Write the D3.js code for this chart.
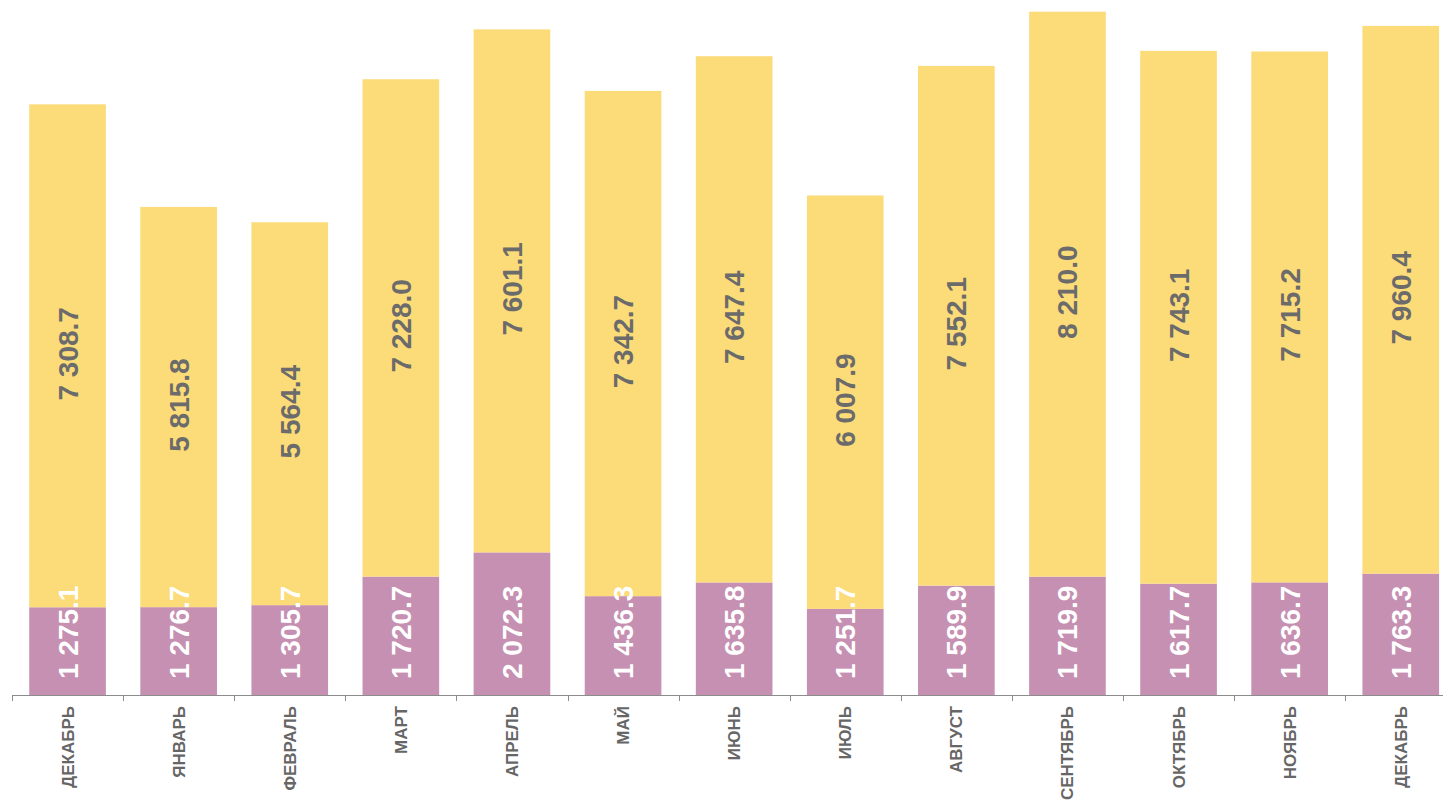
<!DOCTYPE html>
<html>
<head>
<meta charset="utf-8">
<script src="https://cdn.jsdelivr.net/npm/d3@7"></script>
<style>
  body { margin: 0; background: #fff; }
  svg { display: block; font-family: "Liberation Sans", Arial, sans-serif; }
</style>
</head>
<body>
<svg id="chart" width="1443" height="805"></svg>
<script>
const months = ["ДЕКАБРЬ", "ЯНВАРЬ", "ФЕВРАЛЬ", "МАРТ", "АПРЕЛЬ", "МАЙ", "ИЮНЬ", "ИЮЛЬ", "АВГУСТ", "СЕНТЯБРЬ", "ОКТЯБРЬ", "НОЯБРЬ", "ДЕКАБРЬ"];
const lower = [1275.1, 1276.7, 1305.7, 1720.7, 2072.3, 1436.3, 1635.8, 1251.7, 1589.9, 1719.9, 1617.7, 1636.7, 1763.3];
const upper = [7308.7, 5815.8, 5564.4, 7228.0, 7601.1, 7342.7, 7647.4, 6007.9, 7552.1, 8210.0, 7743.1, 7715.2, 7960.4];

const svg = d3.select("#chart");
const baseY = 695;

const fmt = v => {
  let s = v.toFixed(1);
  let [i, d] = s.split(".");
  i = i.replace(/\B(?=(\d{3})+(?!\d))/g, " ");
  return i + "." + d;
};

const x = d3.scaleBand()
  .domain(d3.range(months.length))
  .range([12, 12 + 111.1 * months.length])
  .paddingInner(0.31)
  .paddingOuter(0.155);

const y = d3.scaleLinear().domain([0, 10100]).range([baseY, 0]);

const data = months.map((m, i) => ({ i, m, lo: lower[i], hi: upper[i] }));

// bars
const g = svg.append("g");
g.selectAll("rect.lo").data(data).enter().append("rect")
  .attr("x", d => x(d.i)).attr("width", x.bandwidth())
  .attr("y", d => y(d.lo)).attr("height", d => baseY - y(d.lo))
  .attr("fill", "#c690b2");
g.selectAll("rect.hi").data(data).enter().append("rect")
  .attr("x", d => x(d.i)).attr("width", x.bandwidth())
  .attr("y", d => y(d.lo + d.hi)).attr("height", d => y(d.lo) - y(d.lo + d.hi))
  .attr("fill", "#fcdb79");

// value labels
g.selectAll("text.hi").data(data).enter().append("text")
  .attr("transform", d => `translate(${x(d.i) + x.bandwidth() / 2 + 10},${(y(d.lo) + y(d.lo + d.hi)) / 2 - 2}) rotate(-90)`)
  .attr("text-anchor", "middle")
  .attr("font-size", 28).attr("font-weight", "bold")
  .attr("fill", "#6b6b6b")
  .text(d => fmt(d.hi));

g.selectAll("text.lo").data(data).enter().append("text")
  .attr("transform", d => `translate(${x(d.i) + x.bandwidth() / 2 + 10},${baseY - 16}) rotate(-90)`)
  .attr("text-anchor", "start")
  .attr("font-size", 28).attr("font-weight", "bold")
  .attr("fill", "#ffffff")
  .text(d => fmt(d.lo));

// axis
const axis = svg.append("g");
axis.append("line")
  .attr("x1", 12).attr("x2", 1443).attr("y1", baseY + 0.5).attr("y2", baseY + 0.5)
  .attr("stroke", "#8c8c8c").attr("stroke-width", 1);
const step = x.step();
axis.selectAll("line.tick").data(d3.range(months.length + 1)).enter().append("line")
  .attr("x1", i => Math.round(12 + step * i) + 0.5).attr("x2", i => Math.round(12 + step * i) + 0.5)
  .attr("y1", baseY).attr("y2", baseY + 6)
  .attr("stroke", "#8c8c8c");

axis.selectAll("text.cat").data(data).enter().append("text")
  .attr("transform", d => `translate(${x(d.i) + x.bandwidth() / 2 + 6},${baseY + 11}) rotate(-90)`)
  .attr("text-anchor", "end")
  .attr("font-size", 17).attr("font-weight", "bold")
  .attr("fill", "#666666")
  .text(d => d.m);
</script>
</body>
</html>
